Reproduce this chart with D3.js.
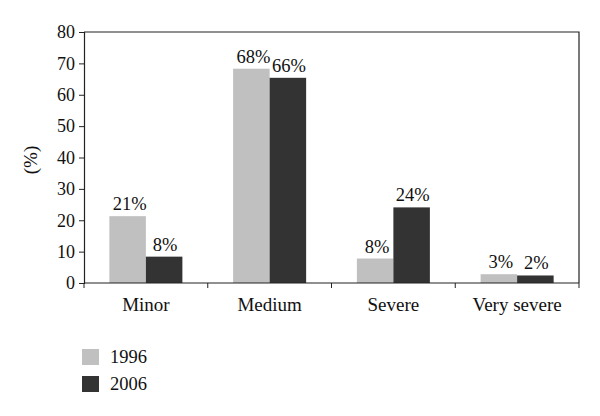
<!DOCTYPE html>
<html>
<head>
<meta charset="utf-8">
<script src="https://cdn.jsdelivr.net/npm/d3@7"></script>
<style>
  body { margin: 0; background: #fff; }
  svg text { font-family: "Liberation Serif", "DejaVu Serif", serif; fill: #111; }
</style>
</head>
<body>
<svg id="chart" width="600" height="416"></svg>
<script>
const categories = ["Minor", "Medium", "Severe", "Very severe"];
const years = ["1996", "2006"];
const values1996 = [21.3, 68.3, 7.8, 2.8];
const values2006 = [8.4, 65.4, 24.1, 2.4];
const labels1996 = ["21%", "68%", "8%", "3%"];
const labels2006 = ["8%", "66%", "24%", "2%"];
const yTicks = [0, 10, 20, 30, 40, 50, 60, 70, 80];
const colors = ["#c0c0c0", "#333333"];

const svg = d3.select("#chart");
const margin = { top: 32, right: 21, bottom: 133, left: 84 };
const width = 600 - margin.left - margin.right;
const height = 416 - margin.top - margin.bottom;

const g = svg.append("g")
  .attr("transform", `translate(${margin.left},${margin.top})`);

const x = d3.scaleBand().domain(categories).range([0, width]).paddingInner(0).paddingOuter(0);
const x1 = d3.scaleBand().domain(years).range([x.bandwidth() * 0.205, x.bandwidth() * 0.795]);
const y = d3.scaleLinear().domain([0, 80]).range([height, 0]);

// frame (top + right)
g.append("path")
  .attr("d", `M0,0H${width}V${height}`)
  .attr("fill", "none")
  .attr("stroke", "#222")
  .attr("stroke-width", 1.2);

// bars
const series = [values1996, values2006];
const labelSets = [labels1996, labels2006];
const groups = g.selectAll(".cat")
  .data(categories)
  .enter().append("g")
  .attr("class", "cat")
  .attr("transform", d => `translate(${x(d)},0)`);

years.forEach((yr, si) => {
  groups.append("rect")
    .attr("x", x1(yr))
    .attr("width", x1.bandwidth())
    .attr("y", (d, i) => y(series[si][i]))
    .attr("height", (d, i) => height - y(series[si][i]))
    .attr("fill", colors[si]);

  groups.append("text")
    .attr("x", x1(yr) + x1.bandwidth() / 2 + (si === 0 ? 2 : 1))
    .attr("y", (d, i) => y(series[si][i]) - 6)
    .attr("text-anchor", "middle")
    .style("font-size", "18.5px")
    .text((d, i) => labelSets[si][i]);
});

// y axis
const yAxis = g.append("g")
  .call(d3.axisLeft(y).tickValues(yTicks).tickSize(5).tickPadding(4));
yAxis.select(".domain").attr("stroke", "#222").attr("stroke-width", 1.2);
yAxis.selectAll(".tick line").attr("stroke", "#222");
yAxis.selectAll(".tick text")
  .style("font-size", "18px")
  .style("font-family", "Liberation Serif, serif")
  .attr("fill", "#111");

// x axis: ticks at category boundaries
const xAxis = g.append("g").attr("transform", `translate(0,${height})`);
xAxis.append("line")
  .attr("x1", 0).attr("x2", width)
  .attr("stroke", "#222").attr("stroke-width", 1.2);
xAxis.selectAll(".bnd")
  .data(categories)
  .enter().append("line")
  .attr("x1", d => x(d) + x.bandwidth()).attr("x2", d => x(d) + x.bandwidth())
  .attr("y1", 0).attr("y2", 5)
  .attr("stroke", "#222");
xAxis.append("line").attr("x1", 0).attr("x2", 0).attr("y1", 0).attr("y2", 5).attr("stroke", "#222");
xAxis.selectAll(".lbl")
  .data(categories)
  .enter().append("text")
  .attr("x", d => x(d) + x.bandwidth() / 2)
  .attr("y", 28)
  .attr("text-anchor", "middle")
  .style("font-size", "19px")
  .text(d => d);

// y label
svg.append("text")
  .attr("transform", "translate(37,160) rotate(-90)")
  .attr("text-anchor", "middle")
  .style("font-size", "19px")
  .text("(%)");

// legend
const legend = svg.append("g").attr("transform", "translate(82,349)");
years.forEach((yr, i) => {
  legend.append("rect")
    .attr("x", 0).attr("y", i * 27)
    .attr("width", 17).attr("height", 16)
    .attr("fill", colors[i]);
  legend.append("text")
    .attr("x", 28).attr("y", i * 27 + 14)
    .style("font-size", "18.5px")
    .text(yr);
});
</script>
</body>
</html>
